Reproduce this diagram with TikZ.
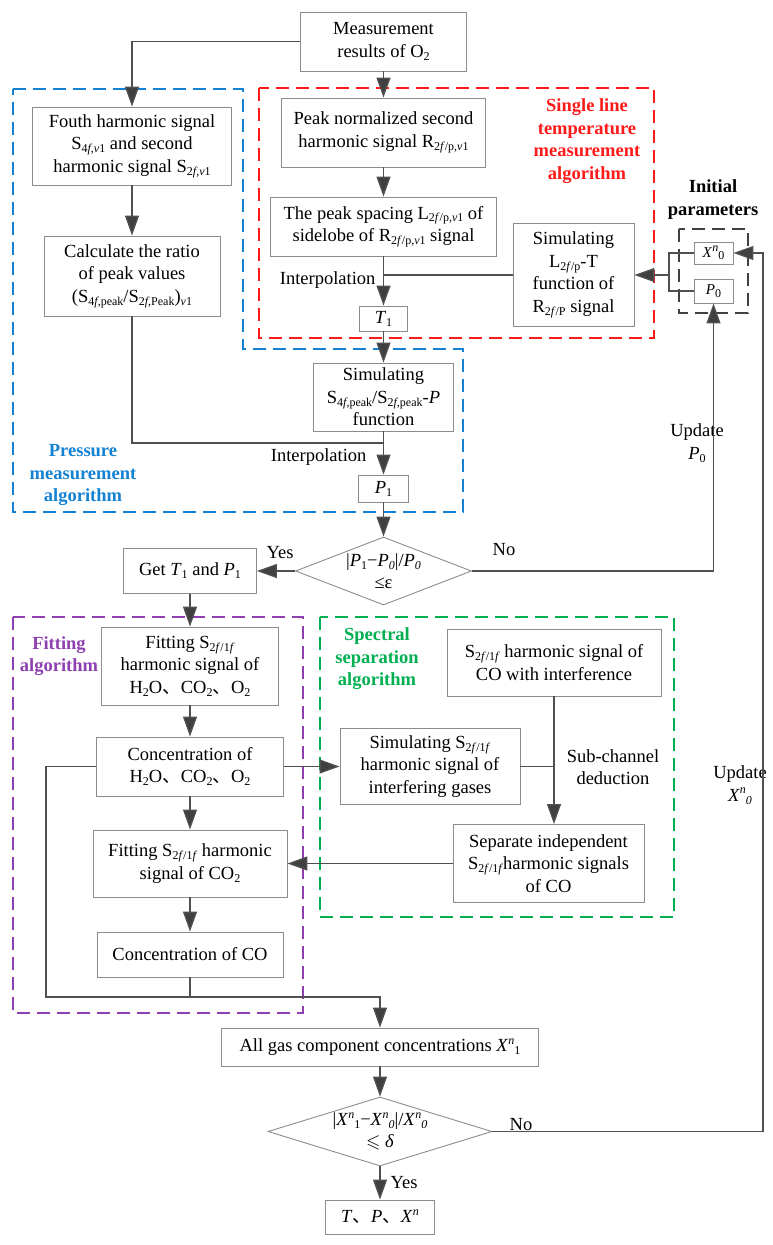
\documentclass[tikz,border=0pt]{standalone}
\usepackage{amssymb}
\usepackage{fontspec}
\setmainfont{Liberation Serif}
\newfontfamily\cjk{Noto Sans CJK SC}
\usetikzlibrary{arrows.meta,shapes.geometric}
\newcommand{\sbs}[1]{\raisebox{-0.35ex}{\fontsize{12}{12}\selectfont #1}}
\newcommand{\sps}[1]{\raisebox{0.85ex}{\fontsize{12}{12}\selectfont #1}}
\newcommand{\dun}{{\cjk 、}}
\definecolor{boxc}{HTML}{8C8C8C}
\definecolor{linec}{HTML}{505050}
\definecolor{arrc}{HTML}{404040}
\definecolor{myblue}{HTML}{1482D2}
\definecolor{myred}{HTML}{FF1A1A}
\definecolor{mypurple}{HTML}{8E3FB0}
\definecolor{mygreen}{HTML}{00B050}
\definecolor{mygray}{HTML}{404040}
\begin{document}
\begin{tikzpicture}[x=1pt,y=-1pt,
  every node/.style={font=\fontsize{18.5}{22.5}\selectfont},
  box/.style={draw=boxc, line width=0.9pt, fill=white, align=center, inner sep=1pt},
  dia/.style={draw=boxc, line width=0.9pt, diamond, inner sep=0pt},
  ln/.style={draw=linec, line width=1.3pt},
  arr/.style={draw=linec, line width=1.3pt, -{Triangle[length=20pt,width=14pt,fill=arrc]}},
  grp/.style={dashed, line width=2pt, dash pattern=on 13pt off 7pt},
  lab/.style={align=center, font=\fontsize{18.5}{22.5}\selectfont\bfseries},
  txt/.style={align=center}]
\useasboundingbox (0,0) rectangle (772,1245);

% group frames
\draw[grp, draw=myblue] (13,89) -- (243,89) -- (243,349) -- (463,349) -- (463,512) -- (13,512) -- cycle;
\draw[grp, draw=myred] (259,88) rectangle (654,338);
\draw[grp, draw=mygray] (679,229) rectangle (748,313);
\draw[grp, draw=mypurple] (13,617) rectangle (303,1013);
\draw[grp, draw=mygreen] (320,617) rectangle (674,917);

% nodes
\node[box, minimum width=166pt, minimum height=59pt] (meas) at (383.5,41.5) {Measurement\\results of O\sbs{2}};
\node[box, minimum width=199pt, minimum height=78pt] (fouth) at (132,146) {Fouth harmonic signal\\S\sbs{4\textit{f},\textit{v}1} and second\\harmonic signal S\sbs{2\textit{f},\textit{v}1}};
\node[box, minimum width=176pt, minimum height=80pt] (calc) at (132,276) {Calculate the ratio\\of peak values\\(S\sbs{4\textit{f},peak}/S\sbs{2\textit{f},Peak})\sbs{\textit{v}1}};
\node[box, minimum width=204pt, minimum height=69pt] (peak) at (383.5,132.5) {Peak normalized second\\harmonic signal R\sbs{2\textit{f}/p,\textit{v}1}};
\node[box, minimum width=226pt, minimum height=59pt] (spacing) at (383.5,226.5) {The peak spacing L\sbs{2\textit{f}/p,\textit{v}1} of\\sidelobe of R\sbs{2\textit{f}/p,\textit{v}1} signal};
\node[box, minimum width=121pt, minimum height=103pt] (simL) at (573.5,275) {Simulating\\L\sbs{2\textit{f}/p}-T\\function of\\R\sbs{2\textit{f}/P} signal};
\node[box, minimum width=48pt, minimum height=25pt] (T1) at (383.5,318.5) {\textit{T}\sbs{1}};
\node[box, minimum width=140pt, minimum height=68pt] (simS) at (383.5,397) {Simulating\\S\sbs{4\textit{f},peak}/S\sbs{2\textit{f},peak}-\textit{P}\\function};
\node[box, minimum width=50pt, minimum height=27pt] (P1) at (383.5,488.5) {\textit{P}\sbs{1}};
\node[dia, minimum width=176pt, minimum height=68pt] (dec1) at (383.5,571) {};
\node[txt] at (dec1) {|\textit{P}\sbs{1}−\textit{P}\sbs{\textit{0}}|/\textit{P}\sbs{\textit{0}}\\≤ε};
\node[box, minimum width=133pt, minimum height=45pt] (getTP) at (190,571) {Get \textit{T}\sbs{1} and \textit{P}\sbs{1}};

\node[box, minimum width=39pt, minimum height=22pt, font=\fontsize{15}{18}\selectfont] (Xbox) at (713.5,253) {\textit{X}\sps{\textit{n}}\sbs{0}};
\node[box, minimum width=39pt, minimum height=24pt, font=\fontsize{15}{18}\selectfont] (P0box) at (713.5,291) {\textit{P}\sbs{0}};

\node[box, minimum width=177pt, minimum height=78pt] (fit1) at (190,666) {Fitting S\sbs{2\textit{f}/1\textit{f}}\\harmonic signal of\\H\sbs{2}O\dun CO\sbs{2}\dun O\sbs{2}};
\node[box, minimum width=187pt, minimum height=59pt] (concH) at (190,766.5) {Concentration of\\H\sbs{2}O\dun CO\sbs{2}\dun O\sbs{2}};
\node[box, minimum width=194pt, minimum height=67pt] (fitCO2) at (190,863.5) {Fitting S\sbs{2\textit{f}/1\textit{f}} harmonic\\signal of CO\sbs{2}};
\node[box, minimum width=186pt, minimum height=45pt] (concCO) at (190,954.5) {Concentration of CO};

\node[box, minimum width=214pt, minimum height=67pt] (interf) at (554,662.5) {S\sbs{2\textit{f}/1\textit{f}} harmonic signal of\\CO with interference};
\node[box, minimum width=180pt, minimum height=76pt] (simS2) at (430,766.5) {Simulating S\sbs{2\textit{f}/1\textit{f}}\\harmonic signal of\\interfering gases};
\node[box, minimum width=191pt, minimum height=78pt] (sep) at (548.5,863.5) {Separate independent\\S\sbs{2\textit{f}/1\textit{f}}harmonic signals\\of CO};

\node[box, minimum width=317pt, minimum height=38pt] (allgas) at (380,1047) {All gas component concentrations \textit{X}\sps{\textit{n}}\sbs{1}};
\node[dia, minimum width=224pt, minimum height=69pt] (dec2) at (380,1131.5) {};
\node[txt] at (dec2) {|\textit{X}\sps{\textit{n}}\sbs{1}−\textit{X}\sps{\textit{n}}\sbs{\textit{0}}|/\textit{X}\sps{\textit{n}}\sbs{\textit{0}}\\$\leqslant$ \textit{δ}};
\node[box, minimum width=109pt, minimum height=34pt] (final) at (380,1217) {\textit{T}\dun\textit{P}\dun\textit{X}\sps{\textit{n}}};

% group labels
\node[lab, text=myred] at (587,141) {Single line\\temperature\\measurement\\algorithm};
\node[lab, text=myblue] at (83,475) {Pressure\\measurement\\algorithm};
\node[lab] at (713,199.5) {Initial\\parameters};
\node[lab, text=mypurple] at (59,656) {Fitting\\algorithm};
\node[lab, text=mygreen] at (377,659) {Spectral\\separation\\algorithm};

% other labels
\node[anchor=east] at (379,280) {Interpolation};
\node[anchor=east] at (370,457) {Interpolation};
\node at (280,553) {Yes};
\node at (504,550) {No};
\node[txt] at (697,443) {Update\\\textit{P}\sbs{0}};
\node[txt] at (613,767) {Sub-channel\\deduction};
\node[txt] at (740,785) {Update\\\textit{X}\sps{\textit{n}}\sbs{\textit{0}}};
\node at (521,1125) {No};
\node at (404,1183) {Yes};

% connectors
\draw[arr] (meas.south) -- (peak.north);
\draw[arr] (meas.west) -| (fouth.north);
\draw[arr] (fouth.south) -- (calc.north);
\coordinate (j1) at (383.5,443);
\draw[ln] (calc.south) |- (j1);
\draw[arr] (simS.south) -- (P1.north);
\draw[arr] (peak.south) -- (spacing.north);
\draw[arr] (spacing.south) -- (T1.north);
\draw[ln] (simL.west) -- (simL.west -| spacing.south);
\draw[arr] (T1.south) -- (simS.north);
\draw[arr] (P1.south) -- (dec1.north);
\draw[arr] (dec1.west) -- (getTP.east);
\draw[arr] (dec1.east) -| (P0box.south);
\draw[arr] (getTP.south) -- (fit1.north);
\draw[arr] (fit1.south) -- (concH.north);
\draw[arr] (concH.south) -- (fitCO2.north);
\draw[arr] (fitCO2.south) -- (concCO.north);
\draw[arr] (concH.east) -- (simS2.west);
\coordinate (jm) at (380,997);
\draw[arr] (concH.west) -- ++(-50,0) |- (jm) -- (allgas.north);
\draw[ln] (concCO.south) -- (concCO.south |- jm);
\draw[arr] (interf.south) -- (interf.south |- sep.north);
\draw[ln] (simS2.east) -- (simS2.east -| interf.south);
\draw[arr] (sep.west) -- (fitCO2.east);
\draw[arr] (allgas.south) -- (dec2.north);
\draw[arr] (dec2.south) -- (final.north);
\coordinate (rr) at (763,1131.5);
\draw[arr] (dec2.east) -- (rr) |- (Xbox.east);
\coordinate (bk) at (669,275);
\draw[ln] (Xbox.west) -| (bk);
\draw[ln] (P0box.west) -| (bk);
\draw[arr] (bk) -- (simL.east);
\end{tikzpicture}
\end{document}
